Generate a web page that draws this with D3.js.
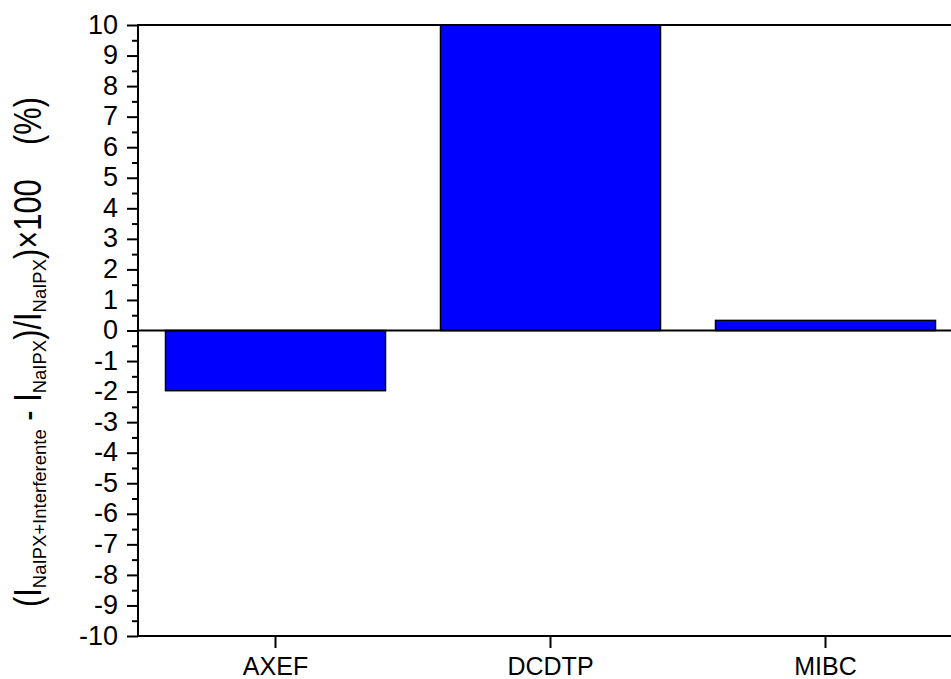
<!DOCTYPE html>
<html>
<head>
<meta charset="utf-8">
<script src="https://cdn.jsdelivr.net/npm/d3@7"></script>
<style>
  html, body { margin: 0; padding: 0; background: #fff; }
  svg { display: block; overflow: hidden; }
  text { font-family: "Liberation Sans", Arial, Helvetica, sans-serif; fill: #000; }
</style>
</head>
<body>
<script>
// ---- data ----
const categories = ["AXEF", "DCDTP", "MIBC"];
const values = [-1.97, 10.0, 0.33];
const yTickValues = [-10, -9, -8, -7, -6, -5, -4, -3, -2, -1, 0, 1, 2, 3, 4, 5, 6, 7, 8, 9, 10];
const yDomain = [-10, 10];
const yLabelParts = [
  { t: "(I", sub: false },
  { t: "NaIPX+Interferente", sub: true },
  { t: " - I", sub: false },
  { t: "NaIPX", sub: true },
  { t: ")/I", sub: false },
  { t: "NaIPX", sub: true },
  { t: ")\u00D7100    (%)", sub: false }
];

// ---- layout ----
const W = 951, H = 679;
const pLeft = 138, pTop = 25, pBottom = 636, pRight = 963;

const svg = d3.select("body").append("svg").attr("width", W).attr("height", H);

const x = d3.scaleBand().domain(categories).range([pLeft, pRight])
  .paddingInner(0.2).paddingOuter(0.1);
const y = d3.scaleLinear().domain(yDomain).range([pBottom, pTop]);

// bars
svg.append("g").selectAll("rect")
  .data(categories.map((c, i) => ({ c, v: values[i] })))
  .join("rect")
  .attr("x", d => x(d.c))
  .attr("width", x.bandwidth())
  .attr("y", d => y(Math.max(0, d.v)))
  .attr("height", d => Math.abs(y(d.v) - y(0)))
  .attr("fill", "#0000ff")
  .attr("stroke", "#000")
  .attr("stroke-width", 1.5);

// zero line
svg.append("line")
  .attr("x1", pLeft).attr("x2", pRight)
  .attr("y1", y(0)).attr("y2", y(0))
  .attr("stroke", "#000").attr("stroke-width", 2);

// frame lines (left, top, bottom)
const frame = svg.append("g").attr("stroke", "#000").attr("stroke-width", 2).attr("stroke-linecap", "square");
frame.append("line").attr("x1", pLeft).attr("x2", pLeft).attr("y1", pTop).attr("y2", pBottom);
frame.append("line").attr("x1", pLeft).attr("x2", pRight).attr("y1", pTop).attr("y2", pTop);
frame.append("line").attr("x1", pLeft).attr("x2", pRight).attr("y1", pBottom).attr("y2", pBottom);

// minor ticks (halfway between majors)
const minorTicks = yTickValues.slice(0, -1).map((v, i) => (v + yTickValues[i + 1]) / 2);
const yMinor = svg.append("g").attr("transform", `translate(${pLeft},0)`)
  .call(d3.axisLeft(y).tickValues(minorTicks).tickSize(6).tickFormat(""));
yMinor.select(".domain").remove();
yMinor.selectAll("line").attr("stroke", "#000").attr("stroke-width", 2);

// major y axis
const yAxis = svg.append("g").attr("transform", `translate(${pLeft},0)`)
  .call(d3.axisLeft(y).tickValues(yTickValues).tickSize(11).tickPadding(9).tickFormat(d => String(d)));
yAxis.select(".domain").remove();
yAxis.selectAll("line").attr("stroke", "#000").attr("stroke-width", 2);
yAxis.selectAll("text").attr("font-size", 27).attr("dy", "0.3em").attr("font-family", null).attr("fill", "#000");

// x axis
const xAxis = svg.append("g").attr("transform", `translate(0,${pBottom})`)
  .call(d3.axisBottom(x).tickSize(12).tickPadding(10));
xAxis.select(".domain").remove();
xAxis.selectAll("line").attr("stroke", "#000").attr("stroke-width", 2);
xAxis.selectAll("text").attr("font-size", 25).attr("dy", "0.68em").attr("font-family", null).attr("fill", "#000");

// y label: main text condensed, subscripts at natural width, total length fitted
const labelLength = 510, mainSize = 38, subSize = 18.5, subShift = 5;
const ylg = svg.append("g").attr("transform", "translate(41,607) rotate(-90)");
const segs = yLabelParts.map(p => {
  const t = ylg.append("text")
    .attr("xml:space", "preserve")
    .style("white-space", "pre")
    .attr("font-size", p.sub ? subSize : mainSize)
    .text(p.t);
  return { p, t, len: t.node().getComputedTextLength() };
});
const subLen = d3.sum(segs.filter(s => s.p.sub), s => s.len);
const mainLen = d3.sum(segs.filter(s => !s.p.sub), s => s.len);
const sMain = (labelLength - subLen) / mainLen;
let cursor = 0;
segs.forEach(s => {
  const sc = s.p.sub ? 1 : sMain;
  s.t.attr("transform", `translate(${cursor},${s.p.sub ? subShift : 0}) scale(${sc},1)`);
  cursor += s.len * sc;
});
</script>
</body>
</html>
